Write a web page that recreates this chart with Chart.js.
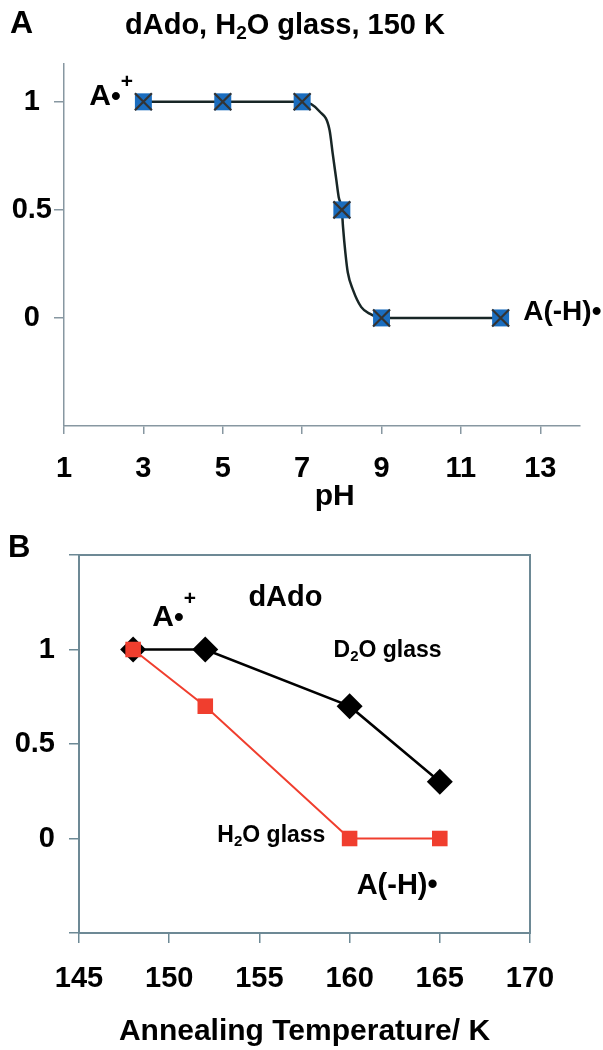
<!DOCTYPE html>
<html><head><meta charset="utf-8">
<script src="https://cdn.jsdelivr.net/npm/chart.js@4.4.1/dist/chart.umd.min.js"></script>
<style>
html,body{margin:0;padding:0;background:#fff;}
#wrap{position:relative;width:603px;height:1050px;overflow:hidden;background:#fff;}
canvas{position:absolute;left:0;}
#cA{top:0;} #cB{top:520px;}
</style></head><body>
<div id="wrap"><canvas id="cA" width="603" height="548"></canvas><canvas id="cB" width="603" height="530"></canvas></div>
<script>
// ---- Panel A data ----
const phValues = [3, 5, 7, 8, 9, 12];
const fractionA = [1, 1, 1, 0.5, 0, 0];
const fitPh = [3, 5, 7, 7.44, 7.69, 7.77, 7.86, 7.92, 8, 8.03, 8.09, 8.15, 8.28, 8.49, 8.7, 9, 12];
const fitFraction = [1, 1, 1, 0.955, 0.87, 0.76, 0.64, 0.56, 0.5, 0.42, 0.30, 0.21, 0.13, 0.05, 0.02, 0, 0];
const phTicks = [1, 3, 5, 7, 9, 11, 13];
const fracTicksA = [0, 0.5, 1];
// ---- Panel B data ----
const tempD2O = [148, 152, 160, 165];
const fracD2O = [1, 1, 0.7, 0.3];
const tempH2O = [148, 152, 160, 165];
const fracH2O = [1, 0.7, 0, 0];
const tempTicks = [145, 150, 155, 160, 165, 170];
const fracTicksB = [-0.5, 0, 0.5, 1, 1.5];
const fracLabelsB = [0, 0.5, 1];

const FONT = "'Liberation Sans', Arial, Helvetica, sans-serif";
const AX_A = '#8797a1';
const AX_B = '#6d8995';
const pts = (xs, ys) => xs.map((x, i) => ({x, y: ys[i]}));

function drawRich(ctx, x, y, segs, align) {
  let w = 0;
  const ws = segs.map(s => { ctx.font = `bold ${s[1]}px ${FONT}`; const m = ctx.measureText(s[0]).width; w += m; return m; });
  let cx = align === 'right' ? x - w : (align === 'center' ? x - w / 2 : x);
  ctx.textAlign = 'left'; ctx.textBaseline = 'alphabetic'; ctx.fillStyle = '#000';
  segs.forEach((s, i) => { ctx.font = `bold ${s[1]}px ${FONT}`; ctx.fillText(s[0], cx, y + (s[2] || 0)); cx += ws[i]; });
}

const notesA = [
  {x: 2.74, y: 0.986, align: 'right', segs: [['A', 30], ['\u2022', 28], ['+', 21, -17]]},
  {x: 12.57, y: -0.01, align: 'left', segs: [['A(-H)\u2022', 28]]}
];
const notesB = [
  {x: 154.39, y: 1.232, align: 'left', segs: [['dAdo', 29]]},
  {x: 149.06, y: 1.126, align: 'left', segs: [['A', 30], ['\u2022', 28], ['+', 21, -21]]},
  {x: 159.11, y: 0.958, align: 'left', segs: [['D', 23], ['2', 15, 4], ['O glass', 23]]},
  {x: 152.67, y: -0.02, align: 'left', segs: [['H', 23], ['2', 15, 4], ['O glass', 23]]},
  {x: 160.39, y: -0.295, align: 'left', segs: [['A(-H)\u2022', 29]]}
];

function notesPlugin(notes, extra) {
  return {
    id: 'notes',
    afterDraw(chart) {
      const ctx = chart.ctx, sx = chart.scales.x, sy = chart.scales.y;
      ctx.save();
      if (extra) extra(chart, ctx);
      notes.forEach(n => drawRich(ctx, sx.getPixelForValue(n.x), sy.getPixelForValue(n.y), n.segs, n.align));
      ctx.restore();
    }
  };
}

const tickFont = {family: FONT, size: 29, weight: 'bold'};
const titleFont = {family: FONT, size: 30, weight: 'bold'};

// ---- Chart A ----
new Chart(document.getElementById('cA'), {
  type: 'scatter',
  data: {datasets: [
    {label: 'x', data: pts(phValues, fractionA), pointStyle: 'crossRot', pointRadius: 12, pointBorderColor: '#333', pointBorderWidth: 2.2, pointBackgroundColor: 'rgba(0,0,0,0)', showLine: false},
    {label: 'sq', data: pts(phValues, fractionA), pointStyle: 'rect', pointRadius: 12, pointBackgroundColor: '#1a6dbf', pointBorderWidth: 0, showLine: false},
    {label: 'fit', data: pts(fitPh, fitFraction), showLine: true, borderColor: '#182626', borderWidth: 2.5, pointRadius: 0, cubicInterpolationMode: 'monotone'}
  ]},
  options: {
    responsive: false, animation: false, devicePixelRatio: 1,
    layout: {padding: {top: 64, right: 23, left: 0, bottom: 0}},
    plugins: {legend: {display: false}, tooltip: {enabled: false}},
    scales: {
      x: {type: 'linear', min: 1, max: 14,
        afterBuildTicks: s => { s.ticks = phTicks.map(v => ({value: v})); },
        afterFit: s => { s.height = 122; },
        ticks: {font: tickFont, color: '#000', padding: 18, maxRotation: 0, autoSkip: false, callback: v => String(v)},
        grid: {drawOnChartArea: false, drawTicks: true, tickLength: 8, color: AX_A, lineWidth: 1.5},
        border: {display: true, color: AX_A, width: 1.5},
        title: {display: false, text: 'pH'}
      },
      y: {type: 'linear', min: -0.5, max: 1.175,
        afterBuildTicks: s => { s.ticks = fracTicksA.map(v => ({value: v})); },
        afterFit: s => { s.width = 64; },
        ticks: {font: tickFont, color: '#000', padding: 2, crossAlign: 'center', callback: v => String(v)},
        grid: {drawOnChartArea: false, drawTicks: true, tickLength: 10, color: AX_A, lineWidth: 1.5},
        border: {display: true, color: AX_A, width: 1.5}
      }
    }
  },
  plugins: [notesPlugin(notesA, (chart, ctx) => {
    const sx = chart.scales.x;
    drawRich(ctx, 10, 33, [['A', 32]], 'left');
    drawRich(ctx, 285, 34, [['dAdo, H', 29], ['2', 19, 5], ['O glass, 150 K', 29]], 'center');
    drawRich(ctx, sx.getPixelForValue(7.82), sx.top + 79, [['pH', 30]], 'center');
  })]
});

// ---- Chart B ----
new Chart(document.getElementById('cB'), {
  type: 'scatter',
  data: {datasets: [
    {label: 'H2O glass', data: pts(tempH2O, fracH2O), showLine: true, borderColor: '#f03e2e', borderWidth: 2, pointStyle: 'rect', pointRadius: 11, pointBackgroundColor: '#f03e2e', pointBorderWidth: 0},
    {label: 'D2O glass', data: pts(tempD2O, fracD2O), showLine: true, borderColor: '#000', borderWidth: 2.5, pointStyle: 'rectRot', pointRadius: 13, pointBackgroundColor: '#000', pointBorderWidth: 0}
  ]},
  options: {
    responsive: false, animation: false, devicePixelRatio: 1,
    layout: {padding: {top: 35, right: 73, left: 0, bottom: 0}},
    plugins: {legend: {display: false}, tooltip: {enabled: false}},
    scales: {
      x: {type: 'linear', min: 145, max: 170,
        afterBuildTicks: s => { s.ticks = tempTicks.map(v => ({value: v})); },
        afterFit: s => { s.height = 117; },
        ticks: {font: tickFont, color: '#000', padding: 19, maxRotation: 0, autoSkip: false, callback: v => String(v)},
        grid: {drawOnChartArea: false, drawTicks: true, tickLength: 10, color: AX_B, lineWidth: 1.5},
        border: {display: true, color: AX_B, width: 2},
        title: {display: true, text: 'Annealing Temperature/ K', font: titleFont, color: '#000', padding: {top: 0, bottom: 0}}
      },
      y: {type: 'linear', min: -0.5, max: 1.5,
        afterBuildTicks: s => { s.ticks = fracTicksB.map(v => ({value: v})); },
        afterFit: s => { s.width = 79; },
        ticks: {font: tickFont, color: '#000', padding: 14, callback: v => fracLabelsB.includes(v) ? String(v) : ''},
        grid: {drawOnChartArea: false, drawTicks: true, tickLength: 10, color: AX_B, lineWidth: 1.5},
        border: {display: true, color: AX_B, width: 2}
      }
    }
  },
  plugins: [{
    id: 'box',
    beforeDatasetsDraw(chart) {
      const a = chart.chartArea, ctx = chart.ctx;
      ctx.save(); ctx.strokeStyle = AX_B; ctx.lineWidth = 2;
      ctx.strokeRect(a.left, a.top, a.right - a.left, a.bottom - a.top);
      ctx.restore();
    }
  }, notesPlugin(notesB, (chart, ctx) => { drawRich(ctx, 8, 37, [['B', 31]], 'left'); })]
});
</script>
</body></html>
